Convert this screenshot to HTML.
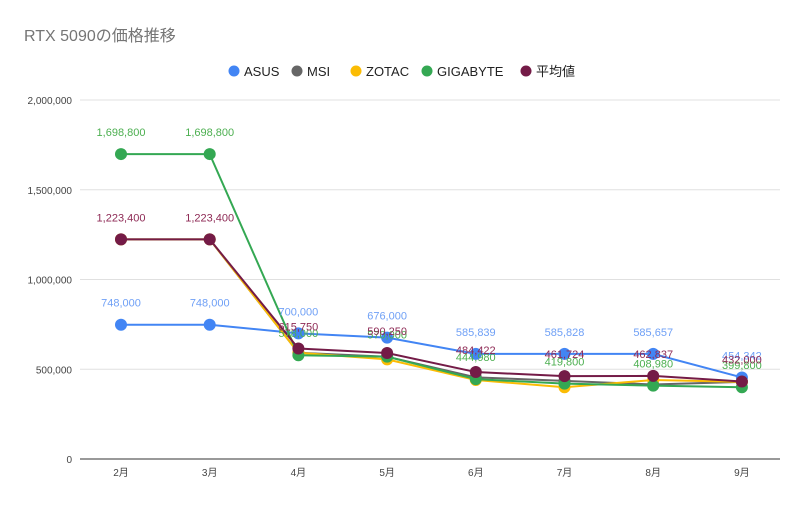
<!DOCTYPE html>
<html><head><meta charset="utf-8"><style>
body{margin:0;background:#fff;font-family:"Liberation Sans","Noto Sans CJK JP",sans-serif}
svg text{font-family:"Liberation Sans","Noto Sans CJK JP",sans-serif}
</style></head><body>
<svg id="c" width="812" height="502">
<text x="24" y="41" font-size="16" fill="#757575">RTX 5090の価格推移</text>
<g id="legend"></g><g id="grid"></g><g id="series"></g><g id="labels"></g>
</svg>
<script>
const categories=["2月","3月","4月","5月","6月","7月","8月","9月"];
const yTicks=[0,500000,1000000,1500000,2000000];
const asus=[748000,748000,700000,676000,585839,585828,585657,454342];
const msi=[1223400,1223400,592000,570000,455000,435000,415000,430000];
const zotac=[1223400,1223400,592000,555000,440000,400000,440000,430000];
const gigabyte=[1698800,1698800,578000,570000,444980,419800,408980,399800];
const avg=[1223400,1223400,615750,590250,484422,461724,462837,432000];
const seriesNames=["ASUS","MSI","ZOTAC","GIGABYTE","平均値"];
const NS="http://www.w3.org/2000/svg";
const colors=["#4285f4","#666666","#fbbc04","#34a853","#741b47"];
const all=[asus,msi,zotac,gigabyte,avg];
const showLabels=[true,false,false,true,true];
const labelColors=["#6fa0f6",null,null,"#4caf50","#8e2a55"];
function x(i){return 121+i*88.7;}
function y(v){return 459-v/2000000*359;}
function el(t,a,p){const e=document.createElementNS(NS,t);for(const k in a)e.setAttribute(k,a[k]);(p||document.getElementById('c')).appendChild(e);return e;}
const grid=document.getElementById('grid');
yTicks.forEach(v=>{
  const l=el('line',{x1:80,x2:780,y1:y(v),y2:y(v),stroke:v===0?'#333':'#e0e0e0','stroke-width':1},grid);
  
  
  const t=el('text',{x:72,y:y(v)+4,'font-size':10,fill:'#444','text-anchor':'end'},grid);
  t.textContent=v.toLocaleString('en-US');
  
  
});
categories.forEach((c,i)=>{
  const t=el('text',{x:x(i),y:476,'font-size':10,fill:'#444','text-anchor':'middle'},grid);
  t.textContent=c;
  
  
});
const sg=document.getElementById('series');
all.forEach((d,s)=>{
  const g=el('g',{},sg);
  
  
  const p=el('polyline',{points:d.map((v,i)=>x(i)+','+y(v)).join(' '),fill:'none',stroke:colors[s],'stroke-width':2},g);
  
  
  d.forEach((v,i)=>{
    const c=el('circle',{cx:x(i),cy:y(v),r:6,fill:colors[s]},g);
    
    
  });
});
const lg=document.getElementById('labels');
all.forEach((d,s)=>{
  if(!showLabels[s])return;
  d.forEach((v,i)=>{
    const t=el('text',{x:x(i),y:y(v)-18,'font-size':11,fill:labelColors[s],'text-anchor':'middle'},lg);
    t.textContent=v.toLocaleString('en-US');
    
    
  });
});
const leg=document.getElementById('legend');
const legX=[234,297,356,427,526];
seriesNames.forEach((n,s)=>{
  const g=el('g',{},leg);
  
  
  el('circle',{cx:legX[s],cy:71,r:5.5,fill:colors[s]},g);
  const t=el('text',{x:legX[s]+10,y:76,'font-size':13,fill:'#222'},g);
  t.textContent=n;
});
</script>
</body></html>
